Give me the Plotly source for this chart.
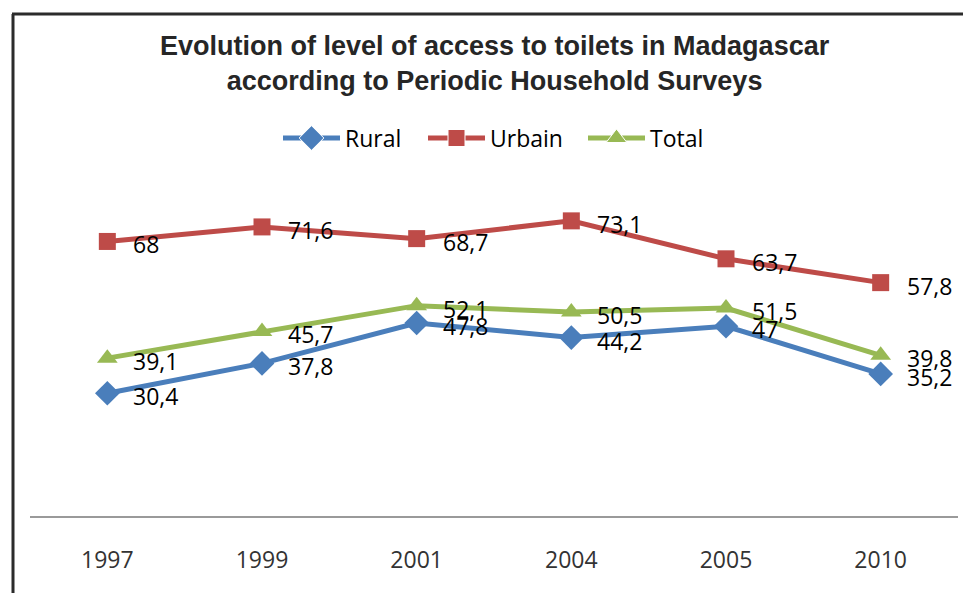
import plotly.graph_objects as go

years = ["1997", "1999", "2001", "2004", "2005", "2010"]
rural = [30.4, 37.8, 47.8, 44.2, 47.0, 35.2]
urbain = [68.0, 71.6, 68.7, 73.1, 63.7, 57.8]
total = [39.1, 45.7, 52.1, 50.5, 51.5, 39.8]

series = [
    ("Rural", rural, "#4A7EBB", "diamond", 19),
    ("Urbain", urbain, "#BE4B48", "square", 17),
    ("Total", total, "#98B954", "triangle-up", 18),
]

def fmt(v):
    s = f"{v:.1f}".rstrip("0").rstrip(".")
    return s.replace(".", ",")

W, H = 963, 593
# plot area in pixels
PX0, PX1, PY0, PY1 = 30, 958, 193, 516
LABEL_FONT = dict(family="Open Sans, sans-serif", size=23, color="#000000")

fig = go.Figure()
annotations = []

for name, vals, color, sym, size in series:
    fig.add_trace(go.Scatter(
        x=years, y=vals, name=name, mode="lines+markers",
        line=dict(color=color, width=5),
        marker=dict(symbol=sym, size=size, color=color, opacity=1),
        showlegend=False, xaxis="x", yaxis="y",
    ))
    # value labels, placed by category index on the same axes
    for i, v in enumerate(vals):
        annotations.append(dict(
            x=i, y=v, xref="x", yref="y", text=fmt(v), showarrow=False,
            xanchor="left", yanchor="middle", xshift=24, yshift=-3,
            font=LABEL_FONT,
        ))

# legend row, laid out in pixel coordinates on an overlay axis pair
legend_pos = [(283, 340), (428, 485), (588, 645)]
LEG_Y = 138
for (name, vals, color, sym, size), (lx0, lx1) in zip(series, legend_pos):
    mid = (lx0 + lx1) / 2
    fig.add_trace(go.Scatter(
        x=[lx0, mid, lx1], y=[LEG_Y] * 3, mode="lines+markers",
        line=dict(color=color, width=5),
        marker=dict(symbol=sym, size=[0, size, 0], color=color, opacity=1),
        showlegend=False, xaxis="x2", yaxis="y2", hoverinfo="skip",
    ))
    annotations.append(dict(
        x=lx1 + 3, y=LEG_Y, xref="x2", yref="y2", text=name, showarrow=False,
        xanchor="left", yanchor="middle", font=LABEL_FONT,
    ))

annotations.append(dict(
    text="<b>Evolution of level of access to toilets in Madagascar<br>"
         "according to Periodic Household Surveys</b>",
    xref="x2", yref="y2", x=495, y=63, xanchor="center", yanchor="middle",
    showarrow=False,
    font=dict(family="Liberation Sans, Arial, sans-serif", size=27, color="#262626"),
))

fig.update_layout(
    width=W, height=H,
    margin=dict(l=0, r=0, t=0, b=0),
    paper_bgcolor="#FFFFFF", plot_bgcolor="rgba(0,0,0,0)",
    showlegend=False,
    xaxis=dict(type="category", range=[-0.5, 5.5], domain=[PX0 / W, PX1 / W],
               anchor="y", showgrid=False, showline=True, linecolor="#9A9A9A",
               linewidth=2, ticks="", ticklabelstandoff=22, zeroline=False,
               tickfont=dict(family="Open Sans, sans-serif", size=23, color="#333333")),
    yaxis=dict(range=[0, 80], domain=[(H - PY1) / H, (H - PY0) / H], anchor="x",
               visible=False, showgrid=False, zeroline=False),
    xaxis2=dict(range=[0, W], domain=[0, 1], anchor="y2", visible=False),
    yaxis2=dict(range=[H, 0], domain=[0, 1], anchor="x2", visible=False),
    annotations=annotations,
    shapes=[
        dict(type="line", xref="x2", yref="y2", x0=13, x1=13, y0=14, y1=H + 5,
             line=dict(color="#2B2B2B", width=3)),
        dict(type="line", xref="x2", yref="y2", x0=12, x1=W + 5, y0=14, y1=14,
             line=dict(color="#2B2B2B", width=3)),
    ],
)

fig.write_html("out.html")
